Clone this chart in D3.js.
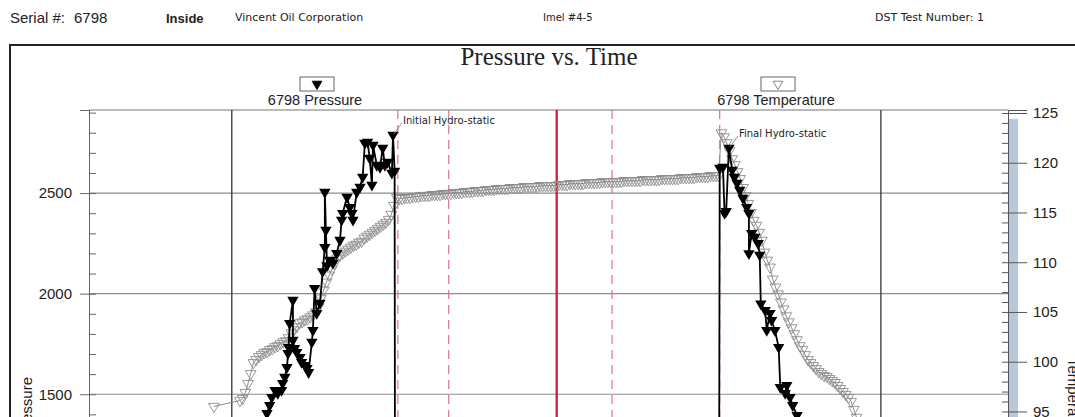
<!DOCTYPE html>
<html>
<head>
<meta charset="utf-8">
<script src="https://cdn.jsdelivr.net/npm/d3@7/dist/d3.min.js"></script>
<style>
  body { margin: 0; background: #fff; }
  text { font-family: "Liberation Sans", Arial, sans-serif; }
</style>
</head>
<body>
<script>
// Set up size
var width = 1075;
var height = 417;

// Header texts
var serialLabel = "Serial #:";
var serialNo = "6798";
var position = "Inside";
var company = "Vincent Oil Corporation";
var wellName = "Imel #4-5";
var testLabel = "DST Test Number: 1";
var chartTitle = "Pressure vs. Time";
var pressName = "6798 Pressure";
var tempName = "6798 Temperature";
var pressTitle = "Pressure";
var tempTitle = "Temperature";

// Time in minutes, pressure in psig (black filled triangles)
var pressTime = [65.8, 66.5, 67.0, 67.4, 68.0, 68.5, 69.2, 69.4, 69.8, 70.2, 70.4, 70.5, 70.7, 71.3, 71.3,
  71.6, 72.0, 72.6, 72.9, 73.5, 73.9, 74.2, 74.8, 75.0, 75.3, 75.7, 76.3, 76.8, 77.2, 77.2, 77.4, 77.6,
  78.1, 78.7, 79.4, 80.0, 80.3, 80.5, 81.3, 81.8, 82.2, 82.4, 83.1, 83.7, 84.2, 84.6, 85.1, 85.5, 85.9,
  86.1, 86.8, 87.4, 87.9, 88.3, 88.8, 89.6, 89.8, 90.1, 90.2,
  150.1, 150.2, 150.8, 151.1, 151.4, 151.9, 152.5, 152.9, 153.4, 153.9, 154.5, 155.2, 155.6, 155.6,
  156.1, 156.7, 157.3, 157.6, 157.8, 158.6, 158.9, 159.5, 159.8, 160.4, 161.1, 161.4, 162.3, 162.6,
  163.2, 163.7, 164.5, 165.5];
var pressValue = [1330, 1405, 1445, 1485, 1520, 1505, 1520, 1555, 1585, 1634, 1704, 1734, 1853, 1968, 1769,
  1729, 1709, 1684, 1659, 1644, 1629, 1609, 1760, 1818, 2027, 1903, 1953, 2110, 2231, 2505, 2316, 2140,
  2167, 2152, 2201, 2266, 2366, 2400, 2480, 2430, 2400, 2366, 2505, 2530, 2580, 2749, 2754, 2674, 2540,
  2739, 2639, 2629, 2724, 2639, 2654, 2600, 2789, 2610, 350,
  1100, 2625, 2630, 2400, 2410, 2724, 2614, 2580, 2550, 2515, 2475, 2430, 2400, 2200,
  2300, 2281, 2250, 2192, 1950, 1918, 1818, 1903, 1868, 1818, 1734, 1535, 1505, 1545,
  1485, 1445, 1395, 1300];

// Temperature in deg F (grey open triangles), one reading every half minute after the first one
var tempFirst = [56.7, 95.5];
var tempStart = 61.5;
var tempStep = 0.5;
var tempValues = [
  96.1, 96.3, 96.9, 97.8, 98.8, 99.9, 100.2, 100.5, 100.7, 100.9, 101.0, 101.2, 101.3, 101.5, 101.6,
  101.8, 102.0, 102.1, 102.4, 102.9, 103.2, 103.5, 103.9, 104.0, 104.2, 104.3, 104.5, 104.7, 105.0,
  105.5, 106.4, 107.2, 108.0, 108.7, 109.3, 109.9, 110.4, 110.7, 110.9, 111.1, 111.3, 111.5, 111.7,
  111.8, 112.0, 112.1, 112.4, 112.6, 112.8, 113.0, 113.2, 113.4, 113.6, 113.8, 114.0, 114.3, 114.8,
  115.7, 116.5,
  116.4, 116.4, 116.5, 116.5, 116.5, 116.6, 116.6, 116.6, 116.7, 116.7, 116.7, 116.7, 116.8, 116.8,
  116.8, 116.8, 116.9, 116.9, 116.9,
  116.9, 117.0, 117.0, 117.0, 117.0, 117.1, 117.1, 117.1, 117.1, 117.2, 117.2, 117.2, 117.2, 117.3,
  117.3, 117.3, 117.3, 117.4, 117.4, 117.4, 117.4, 117.4, 117.5, 117.5, 117.5, 117.5, 117.5, 117.6,
  117.6, 117.6, 117.6, 117.6, 117.6, 117.7, 117.7, 117.7, 117.7, 117.7, 117.7, 117.7,
  117.8, 117.8, 117.8, 117.8, 117.9, 117.9, 117.9, 117.9, 117.9, 117.9, 118.0, 118.0, 118.0, 118.0,
  118.0, 118.0, 118.1, 118.1, 118.1, 118.1,
  118.1, 118.1, 118.1, 118.1, 118.2, 118.2, 118.2, 118.2, 118.2, 118.2, 118.2, 118.3, 118.3, 118.3,
  118.3, 118.3, 118.3, 118.3, 118.4, 118.4, 118.4, 118.4, 118.4, 118.4, 118.4, 118.5, 118.5, 118.5,
  118.5, 118.5, 118.5, 118.6, 118.6, 118.6, 118.6, 118.6, 118.7, 118.7, 118.7, 118.7,
  123.0, 122.6, 122.0, 121.2, 120.4, 119.8, 119.1, 118.4, 117.5, 116.7, 115.9, 115.0, 114.2, 113.7,
  113.0, 112.2, 111.0, 110.2, 109.5, 108.3, 107.5, 106.8, 106.0, 105.3, 104.6, 104.0, 103.4, 102.8,
  102.2, 101.6, 101.2, 100.7, 100.2, 99.9, 99.6, 99.3, 99.0, 98.8, 98.6, 98.5, 98.3, 98.1, 97.9,
  97.6, 97.3, 97.0, 96.7, 96.4, 96.0, 95.2, 94.4];

// Period markers (minutes)
var gridTimes = [60, 120, 180];
var dashedMarks = [90.7, 100.1, 130.3, 150.2];
var solidMarks = [120.1];

// Annotations
var hydroNames = ["Initial Hydro-static", "Final Hydro-static"];
var hydroTime = [89.8, 151.9];
var hydroValue = [2789, 2724];

// Axis ticks (only the part of the axes that shows in the picture is labelled)
var pressGrid = [0, 500, 1000, 1500, 2000, 2500];
var pressMajor = [1500, 2000, 2500];
var pressMinor = d3.range(0, 2901, 100);
var tempMajor = [95, 100, 105, 110, 115, 120, 125];
var tempMinor = d3.range(67, 126, 1);

// Plot box
var plot = {left: 89, right: 1008, top: 110, bottom: 696};

var x = d3.scaleLinear().domain([33.6, 203.5]).range([plot.left, plot.right]);
var yP = d3.scaleLinear().domain([0, 2913]).range([plot.bottom, plot.top]);
var yT = d3.scaleLinear().domain([66.4, 125.3]).range([plot.bottom, plot.top]);

var svg = d3.select("body").append("svg")
  .attr("width", width)
  .attr("height", height);

svg.append("rect").attr("width", width).attr("height", height).attr("fill", "#fff");

// Header line
var header = svg.append("g");
header.append("text").attr("x", 10).attr("y", 23).attr("font-size", "15px").attr("fill", "#222").text(serialLabel);
header.append("text").attr("x", 74).attr("y", 23).attr("font-size", "15px").attr("fill", "#222").text(serialNo);
header.append("text").attr("x", 166).attr("y", 23).attr("font-size", "13px").attr("font-weight", "bold").attr("fill", "#222").text(position);
header.append("text").attr("x", 235).attr("y", 21).attr("font-size", "11px").style("font-family", "'DejaVu Sans', sans-serif").attr("fill", "#222").text(company);
header.append("text").attr("x", 543).attr("y", 21).attr("font-size", "10px").style("font-family", "'DejaVu Sans', sans-serif").attr("fill", "#222").text(wellName);
header.append("text").attr("x", 875).attr("y", 21).attr("font-size", "11px").style("font-family", "'DejaVu Sans', sans-serif").attr("fill", "#222").text(testLabel);

// Outer frame
svg.append("path")
  .attr("d", "M10," + height + "V45H" + width)
  .attr("fill", "none")
  .attr("stroke", "#222")
  .attr("stroke-width", 2);

// Title
svg.append("text")
  .attr("x", 549).attr("y", 65)
  .attr("text-anchor", "middle")
  .style("font-family", "'Liberation Serif', 'Times New Roman', serif")
  .attr("font-size", "25px")
  .attr("fill", "#222")
  .text(chartTitle);

// Legend
var legend = [
  {name: pressName, cx: 317, filled: true},
  {name: tempName, cx: 778, filled: false}
];
var leg = svg.selectAll(".leg").data(legend).enter().append("g").attr("class", "leg");
leg.append("rect")
  .attr("x", function (d) { return d.cx - 17; })
  .attr("y", 77).attr("width", 34).attr("height", 14)
  .attr("fill", "#fff").attr("stroke", "#666").attr("stroke-width", 1);
leg.append("path")
  .attr("d", d3.symbol().type(d3.symbolTriangle).size(40))
  .attr("transform", function (d) { return "translate(" + d.cx + ",84) rotate(180)"; })
  .attr("fill", function (d) { return d.filled ? "#000" : "none"; })
  .attr("stroke", function (d) { return d.filled ? "#000" : "#888"; });
leg.append("text")
  .attr("x", function (d) { return d.cx - 2; })
  .attr("y", 105)
  .attr("text-anchor", "middle")
  .attr("font-size", "14.5px")
  .attr("fill", "#222")
  .text(function (d) { return d.name; });

// Blue strip beside the temperature axis
svg.append("rect")
  .attr("x", plot.right + 1).attr("width", 9)
  .attr("y", yT(124.4)).attr("height", plot.bottom - yT(124.4))
  .attr("fill", "#b8c8dc");

// Grid
var grid = svg.append("g");
grid.selectAll(".hg").data(pressGrid).enter().append("line")
  .attr("x1", plot.left).attr("x2", plot.right)
  .attr("y1", function (d) { return yP(d); }).attr("y2", function (d) { return yP(d); })
  .attr("stroke", "#8c8c8c").attr("stroke-width", 1.2);
grid.append("line")
  .attr("x1", plot.left).attr("x2", plot.right)
  .attr("y1", plot.top).attr("y2", plot.top)
  .attr("stroke", "#777").attr("stroke-width", 1.2);
grid.selectAll(".vg").data(gridTimes).enter().append("line")
  .attr("x1", function (d) { return x(d); }).attr("x2", function (d) { return x(d); })
  .attr("y1", plot.top).attr("y2", plot.bottom)
  .attr("stroke", "#333").attr("stroke-width", 1.3);
grid.selectAll(".dm").data(dashedMarks).enter().append("line")
  .attr("x1", function (d) { return x(d); }).attr("x2", function (d) { return x(d); })
  .attr("y1", plot.top).attr("y2", plot.bottom)
  .attr("stroke", "#e07585").attr("stroke-width", 1.2)
  .attr("stroke-dasharray", "9,6");
grid.selectAll(".sm").data(solidMarks).enter().append("line")
  .attr("x1", function (d) { return x(d); }).attr("x2", function (d) { return x(d); })
  .attr("y1", plot.top).attr("y2", plot.bottom)
  .attr("stroke", "#cc2040").attr("stroke-width", 2);

// Axes
var leftAxis = svg.append("g").attr("transform", "translate(" + plot.left + ",0)");
leftAxis.call(d3.axisLeft(yP).tickValues(pressMinor).tickSizeInner(-7).tickSizeOuter(0).tickFormat(""));
leftAxis.append("g").call(d3.axisLeft(yP).tickValues(pressMajor).tickSize(9).tickPadding(8).tickFormat(d3.format("d")));
leftAxis.selectAll("path, line").attr("stroke", "#666");
leftAxis.selectAll("text").attr("font-size", "15px").attr("fill", "#222").style("font-family", "'Liberation Sans', Arial, sans-serif");

var rightAxis = svg.append("g").attr("transform", "translate(" + plot.right + ",0)");
rightAxis.call(d3.axisRight(yT).tickValues(tempMinor).tickSizeInner(-6).tickSizeOuter(0).tickFormat(""));
rightAxis.append("g").call(d3.axisRight(yT).tickValues(tempMajor).tickSize(19).tickPadding(6).tickFormat(d3.format("d")));
rightAxis.selectAll("path, line").attr("stroke", "#555");
rightAxis.selectAll("text").attr("font-size", "15px").attr("fill", "#222").style("font-family", "'Liberation Sans', Arial, sans-serif");

// Axis titles
svg.append("text")
  .attr("transform", "translate(32,407) rotate(-90)")
  .attr("text-anchor", "middle").attr("font-size", "15px").attr("fill", "#222")
  .text(pressTitle);
svg.append("text")
  .attr("transform", "translate(1068,400) rotate(90)")
  .attr("text-anchor", "middle").attr("font-size", "15px").attr("fill", "#222")
  .text(tempTitle);

// Data
svg.append("clipPath").attr("id", "plotClip").append("rect")
  .attr("x", plot.left).attr("y", plot.top)
  .attr("width", plot.right - plot.left).attr("height", plot.bottom - plot.top);
var dataGroup = svg.append("g").attr("clip-path", "url(#plotClip)");

var tempData = [{t: tempFirst[0], v: tempFirst[1]}].concat(tempValues.map(function (v, i) {
  return {t: tempStart + i * tempStep, v: v};
}));
var pressData = pressTime.map(function (t, i) { return {t: t, v: pressValue[i]}; });

var tempLine = d3.line().x(function (d) { return x(d.t); }).y(function (d) { return yT(d.v); });
var pressLine = d3.line().x(function (d) { return x(d.t); }).y(function (d) { return yP(d.v); });

dataGroup.append("path")
  .attr("d", tempLine(tempData))
  .attr("fill", "none").attr("stroke", "#8a8a8a").attr("stroke-width", 1);
dataGroup.selectAll(".tp").data(tempData).enter().append("path")
  .attr("d", d3.symbol().type(d3.symbolTriangle).size(50))
  .attr("transform", function (d) { return "translate(" + x(d.t) + "," + yT(d.v) + ") rotate(180)"; })
  .attr("fill", "none").attr("stroke", "#8c8c8c").attr("stroke-width", 0.9);

dataGroup.append("path")
  .attr("d", pressLine(pressData))
  .attr("fill", "none").attr("stroke", "#000").attr("stroke-width", 1.8);
dataGroup.selectAll(".pp").data(pressData).enter().append("path")
  .attr("d", d3.symbol().type(d3.symbolTriangle).size(56))
  .attr("transform", function (d) { return "translate(" + x(d.t) + "," + yP(d.v) + ") rotate(180)"; })
  .attr("fill", "#000");

// Hydrostatic labels with leader lines
hydroNames.forEach(function (name, i) {
  var px = x(hydroTime[i]), py = yP(hydroValue[i]);
  svg.append("line")
    .attr("x1", px + 1).attr("y1", py - 1)
    .attr("x2", px + 9).attr("y2", py - 12)
    .attr("stroke", "#777").attr("stroke-width", 0.8);
  svg.append("text")
    .attr("x", px + 10).attr("y", py - 11)
    .attr("font-size", "10px")
    .style("font-family", "'DejaVu Sans', sans-serif")
    .attr("fill", "#222")
    .text(name);
});
</script>
</body>
</html>
